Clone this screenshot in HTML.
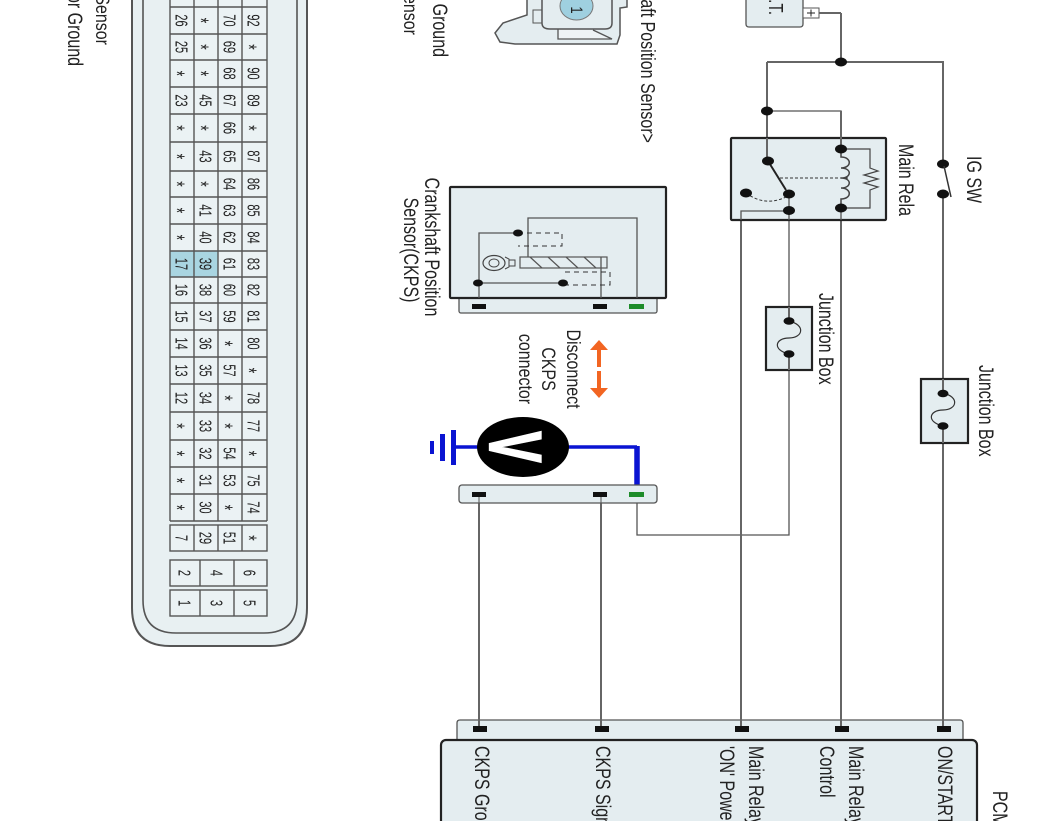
<!DOCTYPE html>
<html><head><meta charset="utf-8"><style>
html,body{margin:0;padding:0;background:#fff;width:1062px;height:821px;overflow:hidden}
svg{display:block;filter:blur(0.35px)}
text{font-family:"Liberation Sans",sans-serif;fill:#222}
.n text{font-size:11px;text-anchor:middle}
.n .s{font-size:14px}
.w{fill:none;stroke:#666;stroke-width:2}
.t{fill:none;stroke:#555;stroke-width:1.3}
.b{fill:#e4edf0;stroke:#222;stroke-width:2.2}
.c{fill:#e4edf0;stroke:#555;stroke-width:1.3}
.l{font-size:16px}
</style></head><body>
<svg width="1062" height="821" viewBox="0 0 1062 821" xmlns="http://www.w3.org/2000/svg">
<!-- left labels -->
<text class="l" text-anchor="end" transform="translate(96,45) rotate(90) scale(1,1.2)">Position Sensor</text>
<text class="l" text-anchor="end" transform="translate(68,66) rotate(90) scale(1,1.3)">Sensor Ground</text>
<!-- PCM connector face -->
<path d="M132,-5V608Q132,646 170,646H270Q307,646 307,608V-5" fill="#e8f0f2" stroke="#555" stroke-width="2"/>
<path d="M143,-5V600Q143,633 176,633H264Q297,633 297,600V-5" fill="#e8f0f2" stroke="#555" stroke-width="1.6"/>
<rect x="170" y="-2" width="97" height="523" fill="#ebf2f4"/>
<rect x="170" y="251" width="48" height="26" fill="#a9d5e1"/>
<g fill="none" stroke="#555" stroke-width="1.4">
<path d="M170,-2V521M194,-2V521M218,-2V521M242,-2V521M267,-2V521"/>
<path d="M170,7H267M170,34H267M170,60H267M170,87H267M170,114H267M170,142H267M170,171H267M170,197H267M170,224H267M170,251H267M170,277H267M170,303H267M170,330H267M170,357H267M170,384H267M170,412H267M170,440H267M170,467H267M170,494H267M170,521H267"/>
<rect x="170" y="525" width="97" height="26" fill="#ebf2f4"/>
<path d="M194,525V551M218,525V551M242,525V551"/>
<rect x="170" y="560" width="97" height="26" fill="#ebf2f4"/>
<path d="M200,560V586M234,560V586"/>
<rect x="170" y="590" width="97" height="26" fill="#ebf2f4"/>
<path d="M200,590V616M234,590V616"/>
</g>
<g class="n" transform="translate(175.5,0) rotate(90) scale(1,1.6)">
<text x="20.5">26</text><text x="47">25</text><text class="s" y="4" x="73.5">*</text><text x="100.5">23</text><text class="s" y="4" x="128">*</text><text class="s" y="4" x="156.5">*</text><text class="s" y="4" x="184">*</text><text class="s" y="4" x="210.5">*</text><text class="s" y="4" x="237.5">*</text><text x="264">17</text><text x="290">16</text><text x="316.5">15</text><text x="343.5">14</text><text x="370.5">13</text><text x="398">12</text><text class="s" y="4" x="426">*</text><text class="s" y="4" x="453.5">*</text><text class="s" y="4" x="480.5">*</text><text class="s" y="4" x="507.5">*</text><text x="538">7</text>
</g>
<g class="n" transform="translate(199.5,0) rotate(90) scale(1,1.6)">
<text class="s" y="4" x="20.5">*</text><text class="s" y="4" x="47">*</text><text class="s" y="4" x="73.5">*</text><text x="100.5">45</text><text class="s" y="4" x="128">*</text><text x="156.5">43</text><text class="s" y="4" x="184">*</text><text x="210.5">41</text><text x="237.5">40</text><text x="264">39</text><text x="290">38</text><text x="316.5">37</text><text x="343.5">36</text><text x="370.5">35</text><text x="398">34</text><text x="426">33</text><text x="453.5">32</text><text x="480.5">31</text><text x="507.5">30</text><text x="538">29</text>
</g>
<g class="n" transform="translate(223.5,0) rotate(90) scale(1,1.6)">
<text x="20.5">70</text><text x="47">69</text><text x="73.5">68</text><text x="100.5">67</text><text x="128">66</text><text x="156.5">65</text><text x="184">64</text><text x="210.5">63</text><text x="237.5">62</text><text x="264">61</text><text x="290">60</text><text x="316.5">59</text><text class="s" y="4" x="343.5">*</text><text x="370.5">57</text><text class="s" y="4" x="398">*</text><text class="s" y="4" x="426">*</text><text x="453.5">54</text><text x="480.5">53</text><text class="s" y="4" x="507.5">*</text><text x="538">51</text>
</g>
<g class="n" transform="translate(247.5,0) rotate(90) scale(1,1.6)">
<text x="20.5">92</text><text class="s" y="4" x="47">*</text><text x="73.5">90</text><text x="100.5">89</text><text class="s" y="4" x="128">*</text><text x="156.5">87</text><text x="184">86</text><text x="210.5">85</text><text x="237.5">84</text><text x="264">83</text><text x="290">82</text><text x="316.5">81</text><text x="343.5">80</text><text class="s" y="4" x="370.5">*</text><text x="398">78</text><text x="426">77</text><text class="s" y="4" x="453.5">*</text><text x="480.5">75</text><text x="507.5">74</text><text class="s" y="4" x="538">*</text>
</g>
<g class="n" transform="translate(178.5,0) rotate(90) scale(1,1.6)"><text x="573">2</text><text x="603">1</text></g>
<g class="n" transform="translate(210.5,0) rotate(90) scale(1,1.6)"><text x="573">4</text><text x="603">3</text></g>
<g class="n" transform="translate(243.5,0) rotate(90) scale(1,1.6)"><text x="573">6</text><text x="603">5</text></g>

<!-- upper-middle labels -->
<text class="l" text-anchor="end" transform="translate(404,35) rotate(90) scale(1,1.2)">Sensor</text>
<text class="l" text-anchor="end" transform="translate(433,57) rotate(90) scale(1,1.3)">Ground</text>
<text class="l" text-anchor="end" transform="translate(641,143) rotate(90) scale(1,1.25)">&lt;Crankshaft Position Sensor&gt;</text>
<!-- top sensor drawing -->
<path d="M527,-2V15L503,23L495,33L500,42L515,44H617L620,35V8L627,7V-2" fill="#e4edf0" stroke="#555" stroke-width="1.5"/>
<path d="M558,29V39H612L593,30" fill="#eef3f5" stroke="#555" stroke-width="1.3"/>
<rect x="533" y="10" width="9" height="13" fill="#e4edf0" stroke="#555"/>
<path d="M542,-2V23Q542,29 550,29H605Q612,29 612,23V-2" fill="#e4edf0" stroke="#555" stroke-width="1.5"/>
<ellipse cx="576.5" cy="6" rx="16.5" ry="14" fill="#9fd0e0" stroke="#777"/>
<text font-size="13" text-anchor="middle" transform="translate(571,10) rotate(90) scale(1,1.3)">1</text>

<!-- wires -->
<path class="w" d="M841,13V62M767,62H943V164M767,62V161"/>
<path class="w" d="M819,13H841"/>
<path class="t" d="M767,111H841V149"/>
<path class="w" d="M943,194V729"/>
<path class="w" d="M841,208V729"/>
<path class="t" d="M789,211V535H637V495"/>
<path class="w" d="M741,729V211H789" stroke-width="1.6"/>
<path class="w" d="M479,495V729M601,495V729" stroke-width="1.6"/>

<!-- battery -->
<path d="M746,-3V24Q746,27 749,27H800Q803,27 803,24V-3" class="c" stroke-width="1.5"/>
<text font-size="15" text-anchor="end" transform="translate(769,15) rotate(90) scale(1,1.35)">B.A.T.</text>
<rect x="803" y="8" width="16" height="10" fill="#fff" stroke="#555"/>
<path d="M807,13H815M811,9.5V16.5" stroke="#222" fill="none"/>

<!-- main relay -->
<rect class="b" x="731" y="138" width="155" height="82" rx="1"/>
<path class="w" d="M767,138V161"/><path class="w" d="M841,111V149"/>
<path class="t" d="M741,220V211H789M789,194V220M841,208V220"/>
<path d="M768,161L786,190" stroke="#222" stroke-width="2" fill="none"/>
<path d="M780,178H848" stroke="#333" stroke-width="1" stroke-dasharray="3 2" fill="none"/>
<path d="M746,193Q765,207 786,197" stroke="#333" stroke-width="1" stroke-dasharray="3 2" fill="none"/>
<path d="M841,149V157C852,157 852,168 841,168C852,168 852,178 841,178C852,178 852,188 841,188C852,188 852,199 841,199V208" fill="none" stroke="#444" stroke-width="1.5"/>
<path d="M841,149H870V168L878,171L864,175L878,179L864,183L878,187L870,190V208H841" fill="none" stroke="#444" stroke-width="1.2"/>
<g fill="#111">
<ellipse cx="841" cy="62" rx="6" ry="4.5"/><ellipse cx="767" cy="111" rx="6" ry="4.5"/><ellipse cx="768" cy="161" rx="6" ry="4.5"/><ellipse cx="789" cy="194" rx="6" ry="4.5"/><ellipse cx="789" cy="210.500" rx="6" ry="4.500"/><ellipse cx="746" cy="193" rx="6" ry="4.5"/><ellipse cx="841" cy="149" rx="6" ry="4.500"/><ellipse cx="841" cy="208" rx="6" ry="4.500"/><ellipse cx="943" cy="164" rx="6" ry="4.500"/><ellipse cx="943" cy="194" rx="6" ry="4.500"/>
</g>
<path d="M944,166L951,197" stroke="#333" stroke-width="1.5" fill="none"/>
<text class="l" transform="translate(899,144) rotate(90) scale(1,1.3)">Main Rela</text>
<text class="l" transform="translate(967,156) rotate(90) scale(1,1.3)">IG SW</text>

<!-- junction boxes -->
<rect class="b" x="766" y="307" width="46" height="63"/>
<path class="w" d="M789,307V321M789,354V370" stroke-width="1.6"/>
<path d="M789,321C806,325 803,338 789,338C775,338 772,350 789,354" fill="none" stroke="#333" stroke-width="1.2"/>
<ellipse cx="789" cy="321" rx="5.500" ry="3.800" fill="#111"/><ellipse cx="789" cy="354" rx="5.500" ry="3.800" fill="#111"/>
<text class="l" transform="translate(819,293) rotate(90) scale(1,1.3)">Junction Box</text>
<rect class="b" x="921" y="379" width="47" height="64"/>
<path class="w" d="M943,379V393M943,426V443" stroke-width="1.6"/>
<path d="M943,393C960,397 957,410 943,410C929,410 926,422 943,426" fill="none" stroke="#333" stroke-width="1.2"/>
<ellipse cx="943" cy="393.500" rx="5.500" ry="3.800" fill="#111"/><ellipse cx="943" cy="426" rx="5.500" ry="3.800" fill="#111"/>
<text class="l" transform="translate(979,365) rotate(90) scale(1,1.3)">Junction Box</text>

<!-- CKPS sensor -->
<rect class="c" x="459" y="296" width="198" height="17" rx="2"/>
<rect class="b" x="450" y="187" width="216" height="111" rx="1"/>
<path class="t" d="M528,257V218H637V298M479,298V233H518M478,283H563M601,257V298"/>
<path d="M518,233H562V246H518M565,272H610V285H565" fill="none" stroke="#333" stroke-width="1" stroke-dasharray="5 4"/>
<rect x="520" y="257" width="87" height="11" fill="none" stroke="#555" stroke-width="1.2"/>
<path d="M530,257L542,268M548,257L560,268M566,257L578,268M584,257L596,268" stroke="#555" fill="none" stroke-width="1.2"/>
<ellipse cx="494" cy="263" rx="11" ry="7.500" fill="none" stroke="#444" stroke-width="1.2"/>
<ellipse cx="494" cy="263" rx="5" ry="4" fill="none" stroke="#444"/>
<path d="M505,257L509,259V267L505,269M509,260H515V266H509" fill="none" stroke="#444"/>
<g fill="#111"><ellipse cx="518" cy="233" rx="5" ry="3.500"/><ellipse cx="478" cy="283" rx="5" ry="3.500"/><ellipse cx="563" cy="283" rx="5" ry="3.500"/></g>
<rect x="472" y="304" width="14" height="5" fill="#111"/><rect x="593" y="304" width="14" height="5" fill="#111"/><rect x="629" y="304" width="15" height="5" fill="#1e8c2a"/>
<text class="l" text-anchor="middle" transform="translate(425,247) rotate(90) scale(1,1.3)">Crankshaft Position</text>
<text class="l" text-anchor="middle" transform="translate(404,250) rotate(90) scale(1,1.3)">Sensor(CKPS)</text>

<!-- disconnect -->
<path d="M599,340L608,350H601V367H597V350H590Z" fill="#f26522"/>
<path d="M599,398L608,388H601V371H597V388H590Z" fill="#f26522"/>
<text class="l" text-anchor="middle" transform="translate(567,369) rotate(90) scale(1,1.2)">Disconnect</text>
<text class="l" text-anchor="middle" transform="translate(542,369) rotate(90) scale(1,1.2)">CKPS</text>
<text class="l" text-anchor="middle" transform="translate(519,369) rotate(90) scale(1,1.2)">connector</text>

<!-- meter -->
<path d="M456,447H480M566,447H637" stroke="#0a14d2" stroke-width="3.500" fill="none"/>
<path d="M637,446V492" stroke="#0a14d2" stroke-width="5.500" fill="none"/>
<rect x="451" y="430" width="5" height="35" fill="#0a14d2"/><rect x="440" y="434" width="5" height="27" fill="#0a14d2"/><rect x="430" y="441" width="4" height="13" fill="#0a14d2"/>
<ellipse cx="523" cy="447" rx="46" ry="30" fill="#000"/>
<text font-size="32" font-weight="bold" text-anchor="middle" style="fill:#fff;stroke:#fff;stroke-width:1" transform="translate(490,447) rotate(90) scale(1.45,2.3)">V</text>

<!-- second connector -->
<rect class="c" x="459" y="485" width="198" height="18" rx="3"/>
<rect x="472" y="492" width="14" height="5" fill="#111"/><rect x="593" y="492" width="14" height="5" fill="#111"/><rect x="629" y="492" width="15" height="5" fill="#1e8c2a"/>
<path d="M479,497V503M601,497V503" stroke="#555" fill="none"/>

<!-- PCM -->
<path d="M457,745V723Q457,720 460,720H960Q963,720 963,723V745" class="c"/>
<path class="w" d="M479,715V729M601,715V729M741,715V729M841,715V729M943,715V729" stroke-width="1.6"/>
<g fill="#111"><rect x="473" y="726" width="14" height="6"/><rect x="595" y="726" width="14" height="6"/><rect x="735" y="726" width="14" height="6"/><rect x="835" y="726" width="14" height="6"/><rect x="937" y="726" width="14" height="6"/></g>
<rect class="b" x="441" y="740" width="536" height="100" rx="5"/>
<text class="l" transform="translate(475,746) rotate(90) scale(1,1.3)">CKPS Ground</text>
<text class="l" transform="translate(596,746) rotate(90) scale(1,1.3)">CKPS Signal</text>
<text class="l" transform="translate(749,746) rotate(90) scale(1,1.3)">Main Relay</text>
<text class="l" transform="translate(720,746) rotate(90) scale(1,1.3)">'ON' Power</text>
<text class="l" transform="translate(849,746) rotate(90) scale(1,1.3)">Main Relay</text>
<text class="l" transform="translate(820,746) rotate(90) scale(1,1.3)">Control</text>
<text class="l" transform="translate(938,746) rotate(90) scale(1,1.3)">ON/START</text>
<text class="l" transform="translate(993,791) rotate(90) scale(1,1.3)">PCM</text>
</svg>
</body></html>
